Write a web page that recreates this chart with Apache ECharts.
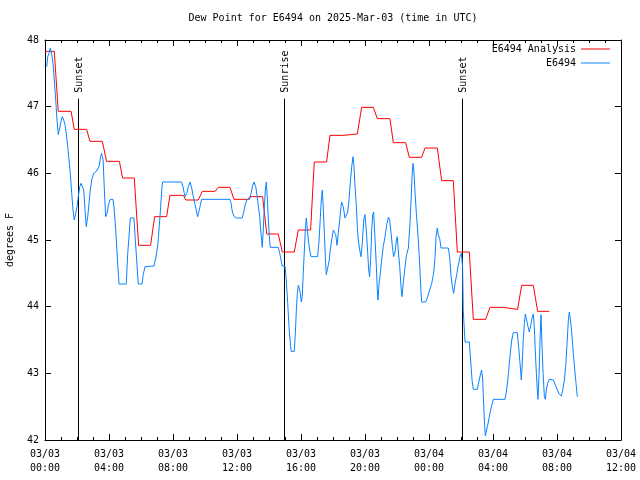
<!DOCTYPE html>
<html>
<head>
<meta charset="utf-8">
<script src="https://cdn.jsdelivr.net/npm/echarts@6/dist/echarts.min.js"></script>
<style>html,body{margin:0;padding:0;background:#fff}#c{width:640px;height:480px}</style>
</head>
<body>
<div id="c"></div>
<script>
// ---- data (hours since 2025-03-03 00:00 UTC, degrees F) ----
var analysisHours = [0,0.58,0.83,1.63,1.83,2.60,2.81,3.58,3.85,4.65,4.85,5.58,5.85,6.60,6.85,7.60,7.81,8.64,8.81,9.58,9.83,10.63,10.83,11.56,11.81,12.70,12.80,13.60,13.86,14.58,14.83,15.58,15.83,16.60,16.83,17.60,17.81,18.64,18.70,19.52,19.79,20.52,20.77,21.56,21.77,22.54,22.77,23.54,23.75,24.52,24.79,25.52,25.77,26.52,26.77,27.54,27.81,28.58,28.69,29.54,29.79,30.52,30.79,31.52];
var analysisValues = [47.83,47.83,46.93,46.93,46.66,46.66,46.48,46.48,46.18,46.18,45.93,45.93,44.92,44.92,45.35,45.35,45.67,45.67,45.60,45.60,45.73,45.73,45.79,45.79,45.61,45.61,45.65,45.65,45.09,45.09,44.82,44.82,45.15,45.15,46.17,46.17,46.57,46.57,46.59,46.59,46.99,46.99,46.82,46.82,46.46,46.46,46.24,46.24,46.38,46.38,45.89,45.89,44.82,44.82,43.81,43.81,43.99,43.99,43.96,43.96,44.32,44.32,43.93,43.93];

var obsHours = [0.11,0.17,0.25,0.33,0.42,0.50,0.58,0.67,0.75,0.83,0.92,1.00,1.08,1.17,1.25,1.33,1.42,1.50,1.58,1.67,1.75,1.83,1.92,2.00,2.08,2.17,2.25,2.33,2.42,2.50,2.58,2.67,2.75,2.83,2.92,3.04,3.17,3.29,3.38,3.46,3.54,3.63,3.71,3.79,3.88,3.96,4.08,4.25,4.33,4.42,4.50,4.58,4.63,5.08,5.17,5.25,5.33,5.56,5.63,5.73,5.83,6.06,6.14,6.25,6.81,6.94,7.06,7.14,7.23,7.31,7.36,8.54,8.64,8.75,8.86,8.96,9.06,9.17,9.27,9.39,9.54,9.60,9.69,9.79,11.56,11.63,11.71,11.83,11.98,12.33,12.42,12.50,12.63,12.79,12.88,12.96,13.06,13.17,13.25,13.33,13.42,13.48,13.54,13.58,13.64,13.71,13.77,13.83,13.89,13.96,14.02,14.08,14.58,14.67,14.75,14.83,15.00,15.08,15.17,15.25,15.33,15.38,15.58,15.64,15.71,15.77,15.83,15.89,15.96,16.02,16.08,16.14,16.21,16.27,16.33,16.39,16.46,16.54,16.63,17.04,17.13,17.21,17.27,17.33,17.39,17.46,17.52,17.58,17.67,17.77,17.81,17.92,18.02,18.08,18.17,18.25,18.33,18.42,18.50,18.54,18.64,18.75,18.83,18.92,19.00,19.08,19.17,19.25,19.31,19.38,19.46,19.52,19.58,19.67,19.75,19.83,19.92,20.00,20.08,20.17,20.23,20.29,20.36,20.42,20.48,20.54,20.63,20.71,20.77,20.81,20.88,20.96,21.04,21.14,21.25,21.36,21.46,21.54,21.63,21.71,21.79,21.88,21.96,22.02,22.08,22.17,22.25,22.31,22.39,22.50,22.60,22.71,22.81,22.88,22.94,23.00,23.06,23.13,23.21,23.29,23.38,23.44,23.50,23.54,23.79,23.92,24.04,24.17,24.29,24.38,24.44,24.52,24.58,24.67,24.75,25.21,25.29,25.38,25.46,25.54,25.63,25.73,25.83,25.94,26.02,26.10,26.14,26.25,26.52,26.60,26.69,26.77,27.02,27.14,27.23,27.29,27.36,27.39,27.46,27.52,27.60,27.71,27.81,27.92,28.02,28.75,28.85,28.96,29.06,29.17,29.27,29.52,29.60,29.69,29.77,29.83,29.89,29.96,30.02,30.10,30.19,30.27,30.36,30.44,30.52,30.58,30.64,30.71,30.77,30.81,30.88,30.94,31.00,31.06,31.13,31.21,31.27,31.33,31.42,31.52,31.64,31.77,31.89,32.02,32.14,32.27,32.36,32.46,32.54,32.63,32.71,32.77,32.86,32.94,33.02,33.11,33.19,33.27];
var obsValues = [47.60,47.75,47.80,47.88,47.78,47.65,47.40,47.10,46.80,46.58,46.68,46.78,46.85,46.80,46.73,46.60,46.40,46.20,46.00,45.70,45.45,45.30,45.40,45.50,45.65,45.80,45.85,45.87,45.75,45.45,45.20,45.35,45.55,45.75,45.90,46.00,46.02,46.02,46.10,46.23,46.30,46.20,45.75,45.35,45.40,45.53,45.61,45.61,45.45,45.15,44.82,44.50,44.34,44.34,44.80,45.05,45.33,45.33,45.05,44.70,44.34,44.34,44.48,44.60,44.61,44.75,44.95,45.20,45.50,45.80,45.87,45.87,45.78,45.65,45.70,45.80,45.87,45.78,45.65,45.52,45.35,45.34,45.50,45.61,45.61,45.55,45.42,45.35,45.33,45.33,45.42,45.52,45.61,45.61,45.70,45.80,45.87,45.80,45.67,45.52,45.35,45.15,45.00,44.89,45.15,45.50,45.75,45.87,45.65,45.30,45.05,44.89,44.89,44.80,44.70,44.61,44.61,44.40,44.05,43.70,43.47,43.33,43.33,43.57,43.95,44.20,44.32,44.28,44.20,44.07,44.15,44.50,44.85,45.15,45.33,45.18,45.00,44.85,44.75,44.75,45.00,45.35,45.60,45.75,45.50,45.10,44.75,44.48,44.58,44.70,44.82,45.00,45.15,45.18,45.08,44.92,45.10,45.30,45.50,45.57,45.50,45.33,45.30,45.42,45.60,45.85,46.10,46.25,46.10,45.80,45.50,45.20,45.00,44.85,44.75,44.95,45.30,45.38,45.15,44.80,44.55,44.45,44.75,45.15,45.38,45.42,45.00,44.60,44.25,44.10,44.35,44.50,44.70,44.90,45.05,45.23,45.34,45.30,45.10,44.90,44.75,44.82,45.00,45.05,44.85,44.60,44.30,44.15,44.35,44.60,44.78,44.88,45.25,45.60,45.95,46.15,46.02,45.70,45.40,45.15,44.80,44.52,44.22,44.07,44.07,44.15,44.25,44.35,44.50,44.75,45.05,45.18,45.08,45.02,44.88,44.88,44.75,44.45,44.30,44.20,44.35,44.48,44.62,44.75,44.80,44.60,43.95,43.47,43.47,43.20,42.90,42.76,42.76,42.90,43.00,43.05,42.90,42.70,42.30,42.06,42.15,42.27,42.40,42.52,42.61,42.61,42.75,42.98,43.25,43.50,43.61,43.61,43.40,43.15,42.90,43.15,43.50,43.75,43.89,43.80,43.70,43.62,43.72,43.83,43.89,43.70,43.35,43.00,42.75,42.61,43.00,43.50,43.88,43.45,43.00,42.65,42.61,42.75,42.85,42.91,42.93,42.90,42.83,42.75,42.69,42.66,42.75,42.90,43.10,43.45,43.80,43.92,43.77,43.55,43.30,43.05,42.85,42.65];

var sunHours = [2.08, 14.96, 26.08];
var sunNames = ['Sunset', 'Sunrise', 'Sunset'];
var sunLineTop = 47.12;

var xTickLabels = ['03/03\n00:00','03/03\n04:00','03/03\n08:00','03/03\n12:00','03/03\n16:00','03/03\n20:00','03/04\n00:00','03/04\n04:00','03/04\n08:00','03/04\n12:00'];
var yMin = 42, yMax = 48;

var FONT = 'DejaVu Sans Mono';

function zip(a, b) { var r = []; for (var i = 0; i < a.length; i++) r.push([a[i], b[i]]); return r; }

var chart = echarts.init(document.getElementById('c'), null, { renderer: 'canvas' });

function xAxisCfg(pos, showLabel) {
  return {
    type: 'value', position: pos, min: 0, max: 36, interval: 4,
    axisLine: { show: true, onZero: false, lineStyle: { color: '#000', width: 1 } },
    axisTick: { show: true, inside: true, length: 6, lineStyle: { color: '#000' } },
    minorTick: { show: true, splitNumber: 4, length: 3, lineStyle: { color: '#000' } },
    splitLine: { show: false }, minorSplitLine: { show: false },
    axisLabel: {
      show: showLabel, color: '#000', fontFamily: FONT, fontSize: 10, lineHeight: 14, margin: 7,
      showMinLabel: true, showMaxLabel: true,
      formatter: function (v) { return xTickLabels[Math.round(v / 4)]; }
    }
  };
}
function yAxisCfg(pos, showLabel) {
  var c = {
    type: 'value', position: pos, min: yMin, max: yMax, interval: 1,
    axisLine: { show: true, onZero: false, lineStyle: { color: '#000', width: 1 } },
    axisTick: { show: true, inside: true, length: 6, lineStyle: { color: '#000' } },
    splitLine: { show: false },
    axisLabel: { show: showLabel, color: '#000', fontFamily: FONT, fontSize: 10, margin: 6 }
  };
  if (showLabel) {
    c.name = 'degrees F'; c.nameLocation = 'middle'; c.nameGap = 30;
    c.nameTextStyle = { color: '#000', fontFamily: FONT, fontSize: 10 };
  }
  return c;
}

chart.setOption({
  animation: false,
  backgroundColor: '#fff',
  title: {
    text: 'Dew Point for E6494 on 2025-Mar-03 (time in UTC)',
    left: 333, textAlign: 'center', top: 13, padding: 0,
    textStyle: { color: '#000', fontFamily: FONT, fontSize: 10, fontWeight: 'normal' }
  },
  legend: {
    orient: 'vertical', right: 30, top: 43, align: 'right', padding: 0, itemGap: 2,
    itemWidth: 29, itemHeight: 1, icon: 'rect',
    textStyle: { color: '#000', fontFamily: FONT, fontSize: 10, lineHeight: 12 },
    data: ['E6494 Analysis', 'E6494']
  },
  grid: { left: 45, right: 19, top: 40, bottom: 40, containLabel: false, outerBoundsMode: 'none' },
  xAxis: [xAxisCfg('bottom', true), xAxisCfg('top', false)],
  yAxis: [yAxisCfg('left', true), yAxisCfg('right', false)],
  series: [
    {
      name: 'E6494 Analysis', type: 'line', data: zip(analysisHours, analysisValues),
      symbol: 'none', color: '#ff0000', lineStyle: { color: '#ff0000', width: 1 }, z: 3
    },
    {
      name: 'E6494', type: 'line', data: zip(obsHours, obsValues),
      symbol: 'none', color: '#0a84ff', lineStyle: { color: '#0a84ff', width: 1 }, z: 4
    },
    {
      name: 'sun', type: 'custom', z: 2, silent: true,
      data: sunHours.map(function (h) { return [h, sunLineTop]; }),
      renderItem: function (params, api) {
        var p0 = api.coord([api.value(0), yMin]);
        var p1 = api.coord([api.value(0), api.value(1)]);
        var x = Math.round(p0[0]) + 0.5;
        return {
          type: 'group',
          children: [
            { type: 'line', shape: { x1: x, y1: p0[1], x2: x, y2: p1[1] }, style: { stroke: '#000', lineWidth: 1 } },
            { type: 'text', x: x + 1, y: p1[1] - 6, rotation: Math.PI / 2,
              style: { text: sunNames[params.dataIndex], fill: '#000', font: '10px "' + FONT + '"', textAlign: 'left', textVerticalAlign: 'middle' } }
          ]
        };
      }
    }
  ]
});
</script>
</body>
</html>
